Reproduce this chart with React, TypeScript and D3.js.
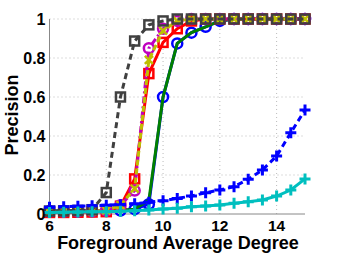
import React, { useEffect, useRef } from 'react';
import * as d3 from 'd3';

const degrees = [6, 6.5, 7, 7.5, 8, 8.5, 9, 9.5, 10, 10.5, 11, 11.5, 12, 12.5, 13, 13.5, 14, 14.5, 15];

const blueCircle = [0.015, 0.015, 0.015, 0.015, 0.016, 0.018, 0.025, 0.05, 0.6, 0.875, 0.93, 0.96, 0.99, 1, 1, 1, 1, 1, 1];
const greenLine = [0.015, 0.015, 0.015, 0.015, 0.016, 0.018, 0.025, 0.07, 0.6, 0.875, 0.93, 0.96, 0.99, 1, 1, 1, 1, 1, 1];
const redSquare = [0.008, 0.008, 0.009, 0.01, 0.012, 0.04, 0.18, 0.72, 0.88, 0.95, 0.99, 1, 1, 1, 1, 1, 1, 1, 1];
const magentaCircle = [0.012, 0.012, 0.013, 0.014, 0.018, 0.045, 0.12, 0.85, 0.95, 0.99, 1, 1, 1, 1, 1, 1, 1, 1, 1];
const yellowCross = [0.012, 0.012, 0.013, 0.014, 0.018, 0.045, 0.13, 0.79, 0.94, 0.99, 1, 1, 1, 1, 1, 1, 1, 1, 1];
const graySquare = [0.015, 0.016, 0.018, 0.022, 0.11, 0.6, 0.887, 0.97, 0.99, 1, 1, 1, 1, 1, 1, 1, 1, 1, 1];
const bluePlus = [0.035, 0.037, 0.04, 0.042, 0.045, 0.048, 0.052, 0.06, 0.068, 0.08, 0.092, 0.109, 0.123, 0.14, 0.178, 0.226, 0.297, 0.417, 0.533];
const cyanPlus = [0.008, 0.009, 0.01, 0.011, 0.012, 0.014, 0.017, 0.021, 0.026, 0.029, 0.037, 0.041, 0.046, 0.055, 0.063, 0.072, 0.092, 0.123, 0.18];

const xTicks = [6, 8, 10, 12, 14];
const yTicks = [0, 0.2, 0.4, 0.6, 0.8, 1];

type Series = { values: number[]; color: string; dash: string | null; marker: string | null };

const series: Series[] = [
  { values: blueCircle, color: '#0000ff', dash: null, marker: 'circle' },
  { values: greenLine, color: '#008000', dash: null, marker: null },
  { values: redSquare, color: '#ff0000', dash: null, marker: 'square' },
  { values: magentaCircle, color: '#bf00bf', dash: '7,3,2,3', marker: 'circle' },
  { values: yellowCross, color: '#bfbf00', dash: '6,3', marker: 'cross' },
  { values: graySquare, color: '#404040', dash: '6,4', marker: 'square' },
  { values: bluePlus, color: '#0000ff', dash: '6,4', marker: 'plus' },
  { values: cyanPlus, color: '#00bfbf', dash: null, marker: 'plus' },
];

export default function App() {
  const svgRef = useRef<SVGSVGElement>(null);

  useEffect(() => {
    if (!svgRef.current) return;
    const width = 338;
    const height = 254;
    const margin = { left: 49.5, right: 33, top: 19, bottom: 40 };

    const svg = d3.select(svgRef.current);
    svg.selectAll('*').remove();
    svg.attr('width', width).attr('height', height);

    const x = d3.scaleLinear().domain([6, 15]).range([margin.left, width - margin.right]);
    const y = d3.scaleLinear().domain([0, 1]).range([height - margin.bottom, margin.top]);

    // dotted grid
    const grid = svg.append('g');
    xTicks.filter(t => t > 6).forEach(t => {
      grid.append('line').attr('x1', x(t)).attr('x2', x(t)).attr('y1', y(0)).attr('y2', y(1))
        .attr('stroke', '#bbb').attr('stroke-width', 1).attr('stroke-dasharray', '1,3');
    });
    yTicks.filter(t => t > 0).forEach(t => {
      grid.append('line').attr('x1', x(6)).attr('x2', x(15)).attr('y1', y(t)).attr('y2', y(t))
        .attr('stroke', '#bbb').attr('stroke-width', 1).attr('stroke-dasharray', '1,3');
    });

    svg.append('line').attr('x1', x(6)).attr('x2', x(15)).attr('y1', y(0)).attr('y2', y(0))
      .attr('stroke', '#888').attr('stroke-width', 1);
    svg.append('line').attr('x1', x(6)).attr('x2', x(6)).attr('y1', y(0)).attr('y2', y(1))
      .attr('stroke', '#888').attr('stroke-width', 1);

    const line = d3.line<number>().x((_, i) => x(degrees[i])).y(d => y(d));

    series.forEach(s => {
      const g = svg.append('g');
      g.append('path').attr('d', line(s.values)).attr('fill', 'none')
        .attr('stroke', s.color).attr('stroke-width', 3)
        .attr('stroke-dasharray', s.dash ?? null);
      if (!s.marker) return;
      s.values.forEach((v, i) => {
        const cx = x(degrees[i]);
        const cy = y(v);
        if (s.marker === 'circle') {
          g.append('circle').attr('cx', cx).attr('cy', cy).attr('r', 5)
            .attr('fill', 'none').attr('stroke', s.color).attr('stroke-width', 2.5);
        } else if (s.marker === 'square') {
          g.append('rect').attr('x', cx - 4.5).attr('y', cy - 4.5).attr('width', 9).attr('height', 9)
            .attr('fill', 'none').attr('stroke', s.color).attr('stroke-width', 2.5);
        } else if (s.marker === 'cross') {
          g.append('path').attr('d', `M${cx - 4},${cy - 4}L${cx + 4},${cy + 4}M${cx - 4},${cy + 4}L${cx + 4},${cy - 4}`)
            .attr('stroke', s.color).attr('stroke-width', 2.5);
        } else if (s.marker === 'plus') {
          g.append('path').attr('d', `M${cx - 5.5},${cy}L${cx + 5.5},${cy}M${cx},${cy - 5.5}L${cx},${cy + 5.5}`)
            .attr('stroke', s.color).attr('stroke-width', 3);
        }
      });
    });

    const font = 'Liberation Sans, Arial, sans-serif';
    xTicks.forEach(t => {
      svg.append('text').attr('x', x(t)).attr('y', y(0) + 17).attr('text-anchor', 'middle')
        .attr('font-family', font).attr('font-weight', 'bold').attr('font-size', 15.5).text(t);
    });
    yTicks.forEach(t => {
      svg.append('text').attr('x', x(6) - 4).attr('y', y(t) + 5.5).attr('text-anchor', 'end')
        .attr('font-family', font).attr('font-weight', 'bold').attr('font-size', 16).text(String(t));
    });

    svg.append('text').attr('x', 178).attr('y', 249).attr('text-anchor', 'middle')
      .attr('font-family', font).attr('font-weight', 'bold').attr('font-size', 18).text('Foreground Average Degree');
    svg.append('text').attr('transform', 'translate(18,115) rotate(-90)').attr('text-anchor', 'middle')
      .attr('font-family', font).attr('font-weight', 'bold').attr('font-size', 18).text('Precision');
  }, []);

  return <svg ref={svgRef} style={{ position: 'absolute', left: 0, top: 0 }}></svg>;
}
